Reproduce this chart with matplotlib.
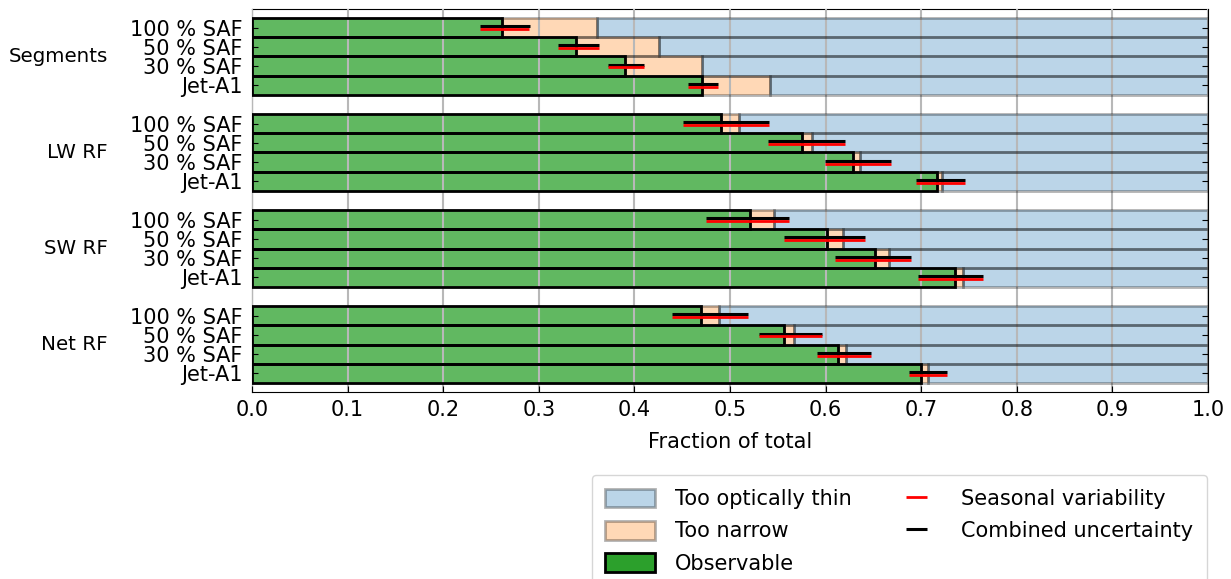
import matplotlib
matplotlib.use("Agg")
import matplotlib.pyplot as plt
import numpy as np
from matplotlib.patches import Patch

plt.rcParams['font.family'] = ['DejaVu Sans']
plt.rcParams['font.size'] = 15

# Metric groups (top to bottom) and fuel cases within each group (top to bottom)
groups = ["Segments", "LW RF", "SW RF", "Net RF"]
fuels = ["100 % SAF", "50 % SAF", "30 % SAF", "Jet-A1"]

# Fraction of total that is observable, per group and fuel
observable = [
    [0.261, 0.339, 0.390, 0.471],
    [0.491, 0.575, 0.629, 0.717],
    [0.521, 0.601, 0.652, 0.735],
    [0.470, 0.557, 0.613, 0.700],
]
# Fraction of total that is too narrow
too_narrow = [
    [0.100, 0.087, 0.081, 0.071],
    [0.018, 0.011, 0.007, 0.005],
    [0.025, 0.017, 0.014, 0.009],
    [0.019, 0.010, 0.008, 0.007],
]
# Combined uncertainty range of the observable fraction (lower, upper bound)
combined_low = [
    [0.239, 0.320, 0.372, 0.456],
    [0.451, 0.540, 0.599, 0.695],
    [0.475, 0.557, 0.610, 0.697],
    [0.439, 0.530, 0.591, 0.687],
]
combined_high = [
    [0.291, 0.363, 0.410, 0.487],
    [0.541, 0.620, 0.668, 0.746],
    [0.562, 0.641, 0.689, 0.765],
    [0.519, 0.596, 0.647, 0.727],
]
# Seasonal variability range of the observable fraction (lower, upper bound)
seasonal_low = [
    [0.239, 0.320, 0.372, 0.456],
    [0.451, 0.540, 0.599, 0.695],
    [0.475, 0.557, 0.610, 0.697],
    [0.439, 0.530, 0.591, 0.687],
]
seasonal_high = [
    [0.290, 0.363, 0.410, 0.487],
    [0.541, 0.620, 0.668, 0.746],
    [0.562, 0.641, 0.689, 0.765],
    [0.519, 0.596, 0.647, 0.727],
]

obs = np.array(observable)
narrow = np.array(too_narrow)
thin = 1.0 - obs - narrow
n_groups, n_fuels = obs.shape
ypos = np.array([[g * (n_fuels + 1) + i for i in range(n_fuels)] for g in range(n_groups)], dtype=float)

fig = plt.figure(figsize=(12.31, 5.79), dpi=100)
ax = fig.add_axes([252 / 1231, 1 - 392 / 579, 956 / 1231, 383 / 579])

c_green = "tab:green"
c_orange = "tab:orange"
c_blue = "tab:blue"
edge_light = (0, 0, 0, 0.3)

y = ypos.ravel()
o = obs.ravel()
nw = narrow.ravel()
th = thin.ravel()

# Faces
ax.barh(y, th, left=o + nw, height=1.0, color=c_blue, alpha=0.3, lw=0, zorder=1)
ax.barh(y, nw, left=o, height=1.0, color=c_orange, alpha=0.3, lw=0, zorder=1)
ax.barh(y, o, height=1.0, color=c_green, alpha=0.75, lw=0, zorder=1)
# Outlines on top of the grid
ax.barh(y, th, left=o + nw, height=1.0, fill=False, edgecolor=edge_light, lw=2, zorder=3)
ax.barh(y, nw, left=o, height=1.0, fill=False, edgecolor=edge_light, lw=2, zorder=3)
ax.barh(y, o, height=1.0, fill=False, edgecolor="black", lw=2, zorder=3.2)

# Uncertainty bars
c_lo = np.array(combined_low).ravel()
c_hi = np.array(combined_high).ravel()
s_lo = np.array(seasonal_low).ravel()
s_hi = np.array(seasonal_high).ravel()
eb_comb = ax.errorbar(o, y - 0.075, xerr=[o - c_lo, c_hi - o], fmt="none",
                      ecolor="black", elinewidth=2.2, capsize=0, zorder=4)
eb_seas = ax.errorbar(o, y + 0.075, xerr=[o - s_lo, s_hi - o], fmt="none",
                      ecolor="red", elinewidth=2.0, capsize=0, zorder=4.1)

ax.set_xlim(0, 1)
ax.set_ylim(ypos.max() + 0.97, -0.97)
ax.set_xticks(np.arange(0, 1.01, 0.1))
ax.set_xticklabels([f"{v:.1f}" for v in np.arange(0, 1.01, 0.1)])
ax.set_yticks(y)
ax.set_yticklabels(fuels * n_groups)
ax.tick_params(axis="y", direction="in", left=True, right=True, length=4, pad=7)
ax.tick_params(axis="x", direction="in", length=4, pad=6)
ax.grid(axis="x", color="#b8b8b8", lw=1.5)
ax.set_axisbelow(False)
ax.set_xlabel("Fraction of total", labelpad=8.5)

for g, name in enumerate(groups):
    ax.text(-0.1506, ypos[g].mean(), name, transform=ax.get_yaxis_transform(),
            ha="right", va="center", fontsize=14.3)

handles = [
    Patch(facecolor=c_blue, edgecolor="black", alpha=0.3, lw=2),
    Patch(facecolor=c_orange, edgecolor="black", alpha=0.3, lw=2),
    Patch(facecolor=c_green, edgecolor="black", lw=2),
    eb_seas,
    eb_comb,
]
labels = ["Too optically thin", "Too narrow", "Observable",
          "Seasonal variability", "Combined uncertainty"]
fig.legend(handles, labels, ncol=2, loc="upper right",
           bbox_to_anchor=(1207 / 1231, 1 - 475 / 579), borderaxespad=0,
           borderpad=0.65, handlelength=2.4, handleheight=1.0, handletextpad=0.95,
           columnspacing=1.9, labelspacing=0.57)

fig.savefig("out.png", dpi=100)
